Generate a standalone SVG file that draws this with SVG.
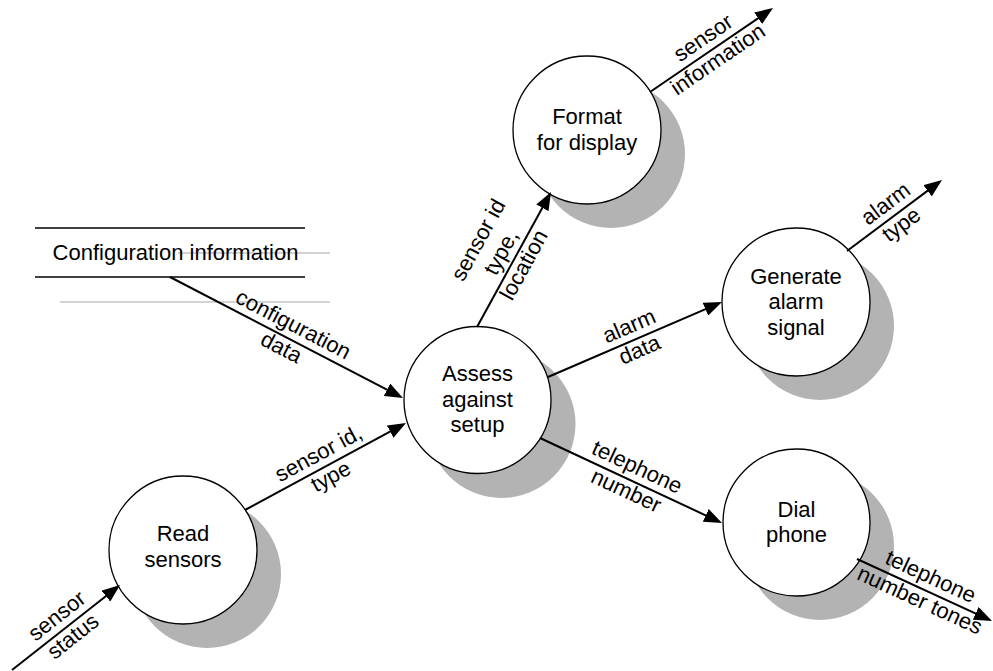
<svg xmlns="http://www.w3.org/2000/svg" width="993" height="671" viewBox="0 0 993 671">
  <style>
    text { font-family: "Liberation Sans", Arial, Helvetica, sans-serif; fill: #000; }
    .node-text { font-size: 22px; text-anchor: middle; }
    .label { font-size: 22px; text-anchor: middle; }
    .store-text { font-size: 22px; text-anchor: middle; }
    .bubble { fill: #fff; stroke: #000; stroke-width: 1.3; }
    .shadow { fill: #b3b3b3; stroke: none; }
    .flow { fill: none; stroke: #000; stroke-width: 2; marker-end: url(#arrow); }
    .store-line { stroke: #000; stroke-width: 1.4; }
    .store-ghost { stroke: #c4c4c4; stroke-width: 1.3; }
  </style>
  <defs>
    <marker id="arrow" markerUnits="userSpaceOnUse" markerWidth="18" markerHeight="14" refX="14" refY="7" orient="auto">
      <path d="M0,0 L18,7 L0,14 Z" fill="#000"/>
    </marker>
  </defs>

  <rect width="993" height="671" fill="#fff"/>

  <!-- data store -->
  <g id="store-configuration">
    <line class="store-ghost" x1="178" y1="253" x2="330" y2="253"/>
    <line class="store-ghost" x1="60" y1="302" x2="330" y2="302"/>
    <line class="store-line" x1="35" y1="228" x2="305" y2="228"/>
    <line class="store-line" x1="35" y1="277" x2="305" y2="277"/>
    <text class="store-text" x="175.5" y="260">Configuration information</text>
  </g>

  <!-- processes -->
  <g id="node-read-sensors">
    <circle class="shadow" cx="207" cy="574" r="74"/>
    <circle class="bubble" cx="183" cy="550" r="74"/>
    <text class="node-text" x="183" y="541">Read</text>
    <text class="node-text" x="183" y="566.5">sensors</text>
  </g>

  <g id="node-assess">
    <circle class="shadow" cx="501.5" cy="424" r="74"/>
    <circle class="bubble" cx="477.5" cy="400" r="73.5"/>
    <text class="node-text" x="477.5" y="381">Assess</text>
    <text class="node-text" x="477.5" y="406.5">against</text>
    <text class="node-text" x="477.5" y="432">setup</text>
  </g>

  <g id="node-format">
    <circle class="shadow" cx="611" cy="154" r="74"/>
    <circle class="bubble" cx="587" cy="130" r="74"/>
    <text class="node-text" x="587" y="124">Format</text>
    <text class="node-text" x="587" y="149.5">for display</text>
  </g>

  <g id="node-generate">
    <circle class="shadow" cx="820" cy="326" r="74"/>
    <circle class="bubble" cx="796" cy="302" r="74"/>
    <text class="node-text" x="796" y="283.5">Generate</text>
    <text class="node-text" x="796" y="309">alarm</text>
    <text class="node-text" x="796" y="334.5">signal</text>
  </g>

  <g id="node-dial">
    <circle class="shadow" cx="820" cy="546" r="74"/>
    <circle class="bubble" cx="796.5" cy="522.5" r="73.5"/>
    <text class="node-text" x="796.5" y="516.5">Dial</text>
    <text class="node-text" x="796.5" y="542">phone</text>
  </g>

  <!-- data flows -->
  <g id="connectors">
    <path class="flow" d="M12,670 L116.9,587.5"/>
    <path class="flow" d="M245,510 L402.5,424.9"/>
    <path class="flow" d="M170,277 L399.4,396.2"/>
    <path class="flow" d="M477,327 L549.1,195.5"/>
    <path class="flow" d="M650,92 L769.7,10.3"/>
    <path class="flow" d="M548,377 L718.3,303.6"/>
    <path class="flow" d="M847,251 L938.8,182.4"/>
    <path class="flow" d="M540,438 L718.4,521.3"/>
    <path class="flow" d="M857,559 L988.4,619.3"/>

    <g transform="translate(66 627.5) rotate(-38.2)">
      <text class="label" y="-7.5">sensor</text>
      <text class="label" y="18.5">status</text>
    </g>
    <g transform="translate(325.5 466.5) rotate(-28.4)">
      <text class="label" y="-7.5">sensor id,</text>
      <text class="label" y="18.5">type</text>
    </g>
    <g transform="translate(286.5 337.5) rotate(27.4)">
      <text class="label" y="-7.5">configuration</text>
      <text class="label" y="18.5">data</text>
    </g>
    <g transform="translate(514 259.5) rotate(-61.3)">
      <text class="label" y="-33.5">sensor id</text>
      <text class="label" y="-7.5">type,</text>
      <text class="label" y="18.5">location</text>
    </g>
    <g transform="translate(711.5 50) rotate(-34.3)">
      <text class="label" y="-7.5">sensor</text>
      <text class="label" y="18.5">information</text>
    </g>
    <g transform="translate(635 339.5) rotate(-23.3)">
      <text class="label" y="-7.5">alarm</text>
      <text class="label" y="18.5">data</text>
    </g>
    <g transform="translate(894.5 215.5) rotate(-36.8)">
      <text class="label" y="-7.5">alarm</text>
      <text class="label" y="18.5">type</text>
    </g>
    <g transform="translate(631 480.5) rotate(25)">
      <text class="label" y="-7.5">telephone</text>
      <text class="label" y="18.5">number</text>
    </g>
    <g transform="translate(924.5 590) rotate(24.7)">
      <text class="label" y="-7.5">telephone</text>
      <text class="label" y="18.5">number tones</text>
    </g>
  </g>
</svg>
